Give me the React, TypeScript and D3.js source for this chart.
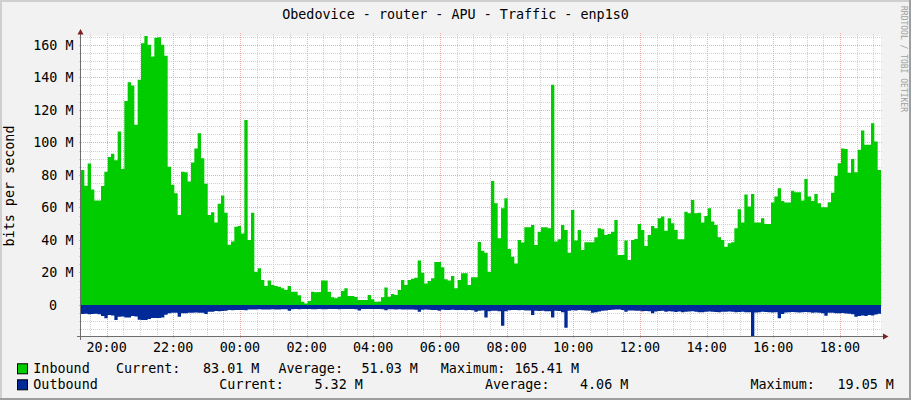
import React from "react";
import * as d3 from "d3";

const TITLE = "Obedovice - router - APU - Traffic - enp1s0";
const Y_LABEL = "bits per second";
const WATERMARK = "RRDTOOL / TOBI OETIKER";
const START = new Date(2024, 0, 1, 19, 14, 0);
const STEP_MINUTES = 6;
const SPAN_HOURS = 24;

// Inbound traffic, Mbit/s, one value per 6-minute step (19:14 -> 19:14 next day)
const inboundM = [
  83, 73.4, 87, 71, 64.2, 64.2, 73.2, 82, 91, 93,
  89, 106.7, 83.7, 125.5, 137, 135, 110.8, 138.5, 161, 165.41,
  160, 152.8, 164.3, 164.7, 160, 153.2, 85, 74, 68.7, 55.4,
  82, 81.6, 75.9, 87.6, 96.2, 105.6, 90.3, 74.5, 55.4, 57,
  50.7, 62.2, 67.3, 56.8, 37, 39, 48.2, 48.6, 44, 113.8,
  40, 56.8, 20.5, 22.6, 15.4, 11.7, 15, 12.3, 11.7, 11.3,
  10.3, 9.2, 11.7, 8.2, 8.2, 6, 2, 1, 2.5, 8.2,
  7.8, 8, 15, 15, 8.2, 4.7, 4.1, 5.1, 8.6, 10.3,
  5.5, 5.5, 5, 3.1, 3.1, 3.1, 6.2, 3.5, 2, 2.2,
  4.7, 10.7, 5.1, 6.8, 6.2, 9.2, 15.4, 12.3, 15.4, 16.2,
  16.8, 27.3, 19.9, 13.3, 14.8, 16.4, 26.5, 26.5, 23.2, 15.8,
  15, 17.8, 10.3, 15.4, 19.5, 19.5, 12.3, 17, 17, 38.8,
  33.4, 32.2, 20.5, 76.3, 62.6, 41, 59.5, 65.6, 34.5, 29.7,
  25.6, 40, 38.4, 47.8, 47.8, 49.2, 36.9, 45.1, 47.8, 47.8,
  47.2, 135.4, 39, 40.4, 49.2, 46.2, 32.2, 58.5, 39.6, 46.2,
  33.8, 38.6, 38.6, 38.6, 41.6, 47.2, 46.6, 43, 43.7, 45.1,
  52.3, 30.8, 30.8, 39.6, 27.7, 40, 40.6, 49.8, 46.2, 36.3,
  43, 48.6, 47.2, 53.3, 54.4, 45.7, 53.3, 50.3, 46.2, 40.4,
  40.4, 57.4, 56.4, 64.6, 56.4, 56.8, 50.7, 54.8, 59.5, 51.3,
  49.2, 41.6, 40, 35.9, 38, 38.6, 47.2, 58.9, 50.7, 67.9,
  60.5, 68.3, 50.7, 50.7, 53.3, 49.8, 49.8, 63, 66.7, 71.8,
  64, 63, 63, 70.2, 69.3, 69.3, 64.2, 77.5, 66.7, 64,
  68.3, 62.6, 60.1, 60.1, 63.2, 69.1, 79.4, 87.2, 96.2, 96,
  81.4, 89.8, 81.6, 95.4, 107.3, 98.5, 98.5, 111.8, 100.5, 83.01,
];

// Outbound traffic, Mbit/s (drawn below zero)
const outboundM = [
  5.5, 5.4, 5.6, 5.5, 5.3, 5.6, 6.8, 8.2, 6.2, 6.4,
  9.2, 7.2, 7.0, 7.6, 7.6, 6.8, 7.0, 9.0, 9.2, 9.2,
  8.6, 8.0, 8.0, 8.0, 7.6, 6.0, 5.0, 4.7, 4.7, 7.2,
  5.1, 5.1, 4.7, 4.7, 4.6, 4.7, 4.8, 5.5, 4.1, 4.1,
  3.7, 3.8, 3.7, 3.6, 3.1, 3.2, 3.1, 3.0, 3.1, 3.2,
  2.7, 2.8, 2.7, 2.6, 2.7, 2.8, 2.7, 2.6, 2.7, 2.7,
  2.6, 2.6, 3.5, 2.6, 2.5, 2.6, 2.5, 2.4, 2.5, 2.6,
  2.6, 2.5, 2.6, 2.6, 2.5, 2.4, 2.5, 2.6, 2.5, 2.5,
  2.5, 2.4, 2.6, 3.3, 2.5, 2.4, 2.5, 2.5, 2.4, 2.5,
  2.6, 3.2, 2.6, 2.6, 2.7, 2.6, 2.7, 2.8, 2.7, 2.8,
  2.9, 4.1, 2.9, 2.8, 2.9, 3.0, 3.1, 3.6, 2.9, 3.0,
  3.0, 2.9, 3.1, 3.0, 3.1, 3.2, 3.1, 3.2, 4.1, 3.5,
  3.4, 7.6, 3.8, 3.6, 3.5, 3.9, 12.7, 3.8, 3.2, 3.1,
  3.0, 3.2, 3.1, 3.3, 3.4, 6.2, 3.5, 3.7, 3.6, 3.8,
  3.9, 7.6, 3.6, 3.7, 4.5, 14.0, 3.5, 3.2, 3.3, 3.1,
  3.2, 3.4, 3.6, 4.7, 4.4, 4.0, 3.6, 3.3, 3.0, 2.9,
  2.7, 2.8, 3.0, 4.1, 3.4, 3.3, 3.5, 3.6, 3.8, 3.7,
  3.9, 5.1, 4.0, 3.7, 3.6, 4.1, 3.8, 4.0, 4.3, 4.0,
  4.4, 4.2, 4.0, 3.9, 4.1, 4.4, 4.5, 4.2, 4.0, 4.1,
  4.3, 4.5, 4.2, 4.1, 4.0, 4.2, 4.4, 4.3, 4.1, 4.5,
  4.4, 19.05, 4.6, 4.4, 4.2, 4.3, 4.5, 4.6, 4.4, 8.2,
  5.5, 4.6, 4.4, 4.3, 4.5, 4.6, 4.4, 4.3, 4.5, 4.7,
  4.6, 4.8, 5.0, 6.6, 4.8, 4.7, 5.0, 5.1, 4.9, 5.2,
  5.4, 5.6, 7.2, 6.8, 6.5, 6.8, 6.2, 6.4, 5.8, 5.32,
];

const Y_MIN_M = -19.05;
const Y_MAX_M = 165.41;
const majorYTicksM = [0, 20, 40, 60, 80, 100, 120, 140, 160];
const minorYTicksM = [-15, -10, -5, 5, 10, 15, 25, 30, 35, 45, 50, 55, 65, 70, 75, 85, 90, 95, 105, 110, 115, 125, 130, 135, 145, 150, 155, 165];

const seriesNames = ["Inbound", "Outbound"];
const seriesColors = ["#00CC00", "#002A97"];
const currentVals = ["83.01 M", "5.32 M"];
const averageVals = ["51.03 M", "4.06 M"];
const maximumVals = ["165.41 M", "19.05 M"];

const FONT = "'DejaVu Sans Mono', monospace";

export default function App() {
  const W = 911, H = 400;
  const L = 81, R = 881, T = 36, B = 336;
  const end = new Date(START.getTime() + SPAN_HOURS * 3600 * 1000);
  const x = d3.scaleTime().domain([START, end]).range([L, R]);
  const y = d3.scaleLinear().domain([Y_MIN_M * 1e6, Y_MAX_M * 1e6]).range([B, T]);
  const stepMs = STEP_MINUTES * 60 * 1000;

  const mk = (arr: number[], sign: number) => {
    const pts = arr.map((v, i) => ({ t: new Date(START.getTime() + i * stepMs), v: sign * v * 1e6 }));
    pts.push({ t: end, v: pts[pts.length - 1].v });
    return pts;
  };
  const inPts = mk(inboundM, 1);
  const outPts = mk(outboundM, -1);
  const area = d3
    .area<{ t: Date; v: number }>()
    .x((d) => x(d.t))
    .y0(y(0))
    .y1((d) => y(d.v))
    .curve(d3.curveStepAfter);

  const minorX = x.ticks(d3.timeMinute.every(30) as any).filter((d) => !(d.getMinutes() === 0 && d.getHours() % 2 === 0));
  const majorX = x.ticks(d3.timeHour.every(2) as any);
  const fmt = d3.timeFormat("%H:%M");

  const minorCol = "#D0D0D0";
  const majorCol = "#EFAAAA";
  const yLabel = (v: number) => (v === 0 ? "0" : `${v} M`);

  return (
    <svg width={W} height={H} style={{ display: "block", position: "absolute", left: 0, top: 0 }}>
      <rect x={0} y={0} width={W} height={H} fill="#F2F2F2" />
      {/* shade frame */}
      <line x1={0} y1={1} x2={W} y2={1} stroke="#CFCFCF" strokeWidth={2} />
      <line x1={1} y1={0} x2={1} y2={H} stroke="#CFCFCF" strokeWidth={2} />
      <line x1={0} y1={H - 1} x2={W} y2={H - 1} stroke="#9E9E9E" strokeWidth={2} />
      <line x1={W - 1} y1={0} x2={W - 1} y2={H} stroke="#9E9E9E" strokeWidth={2} />

      <rect x={L} y={T} width={R - L} height={B - T} fill="#FFFFFF" />

      {/* grid */}
      <g shapeRendering="crispEdges">
        {minorYTicksM.map((v) => (
          <line key={"hy" + v} x1={L - 2} x2={R + 2} y1={Math.round(y(v * 1e6)) + 0.5} y2={Math.round(y(v * 1e6)) + 0.5} stroke={minorCol} strokeDasharray="1,1" />
        ))}
        {minorX.map((d, i) => (
          <line key={"vx" + i} x1={Math.round(x(d)) + 0.5} x2={Math.round(x(d)) + 0.5} y1={T - 2} y2={B + 2} stroke={minorCol} strokeDasharray="1,1" />
        ))}
        {majorYTicksM.map((v) => (
          <line key={"my" + v} x1={L - 2} x2={R + 2} y1={Math.round(y(v * 1e6)) + 0.5} y2={Math.round(y(v * 1e6)) + 0.5} stroke={majorCol} strokeDasharray="1,1" />
        ))}
        {majorX.map((d, i) => (
          <line key={"mx" + i} x1={Math.round(x(d)) + 0.5} x2={Math.round(x(d)) + 0.5} y1={T - 3} y2={B + 3} stroke={majorCol} strokeDasharray="1,1" />
        ))}
      </g>

      {/* data */}
      <path d={area(inPts) || ""} fill={seriesColors[0]} />
      <path d={area(outPts) || ""} fill={seriesColors[1]} />

      {/* axes */}
      <g shapeRendering="crispEdges">
        <line x1={80.5} x2={80.5} y1={33} y2={340} stroke="#6E6E6E" />
        <line x1={77} x2={884} y1={336.5} y2={336.5} stroke="#6E6E6E" />
      </g>
      <polygon points="77.5,34.5 83.5,34.5 80.5,29" fill="#801F1F" />
      <polygon points="883,333.5 883,339.5 888.5,336.5" fill="#801F1F" />

      {/* y labels */}
      {majorYTicksM.map((v) => (
        <text key={"yl" + v} x={v === 0 ? 57 : 73.5} y={y(v * 1e6) + 5} textAnchor="end" fontFamily={FONT} fontSize={13.4} fill="#000">
          {yLabel(v)}
        </text>
      ))}
      {/* x labels */}
      {majorX.map((d, i) => (
        <text key={"xl" + i} x={x(d)} y={352} textAnchor="middle" fontFamily={FONT} fontSize={13.4} fill="#000">
          {fmt(d)}
        </text>
      ))}

      {/* title */}
      <text x={W / 2} y={19} textAnchor="middle" fontFamily={FONT} fontSize={13.4} fill="#000">
        {TITLE}
      </text>
      {/* vertical axis label */}
      <text transform={`translate(13.5, ${(T + B) / 2 + 0}) rotate(-90)`} textAnchor="middle" fontFamily={FONT} fontSize={13.4} fill="#000">
        {Y_LABEL}
      </text>
      {/* watermark */}
      <text transform="translate(901, 6) rotate(90)" fontFamily={FONT} fontSize={8} fill="#A0A0A0">
        {WATERMARK}
      </text>

      {/* legend */}
      {seriesNames.map((name, i) => {
        const by = i === 0 ? 373.3 : 389.3;
        const xs =
          i === 0
            ? [115.9, 203, 278.5, 361.5, 440.8, 514.5]
            : [219.3, 314.5, 485, 580, 750.4, 837.5];
        return (
          <g key={name}>
            <rect x={17.5} y={by - 9.5} width={10} height={10} fill={seriesColors[i]} stroke="#000" strokeWidth={1} />
            <text x={33.3} y={by} fontFamily={FONT} fontSize={13.4} fill="#000">{name}</text>
            <text x={xs[0]} y={by} fontFamily={FONT} fontSize={13.4} fill="#000">Current:</text>
            <text x={xs[1]} y={by} fontFamily={FONT} fontSize={13.4} fill="#000">{currentVals[i]}</text>
            <text x={xs[2]} y={by} fontFamily={FONT} fontSize={13.4} fill="#000">Average:</text>
            <text x={xs[3]} y={by} fontFamily={FONT} fontSize={13.4} fill="#000">{averageVals[i]}</text>
            <text x={xs[4]} y={by} fontFamily={FONT} fontSize={13.4} fill="#000">Maximum:</text>
            <text x={xs[5]} y={by} fontFamily={FONT} fontSize={13.4} fill="#000">{maximumVals[i]}</text>
          </g>
        );
      })}
    </svg>
  );
}
